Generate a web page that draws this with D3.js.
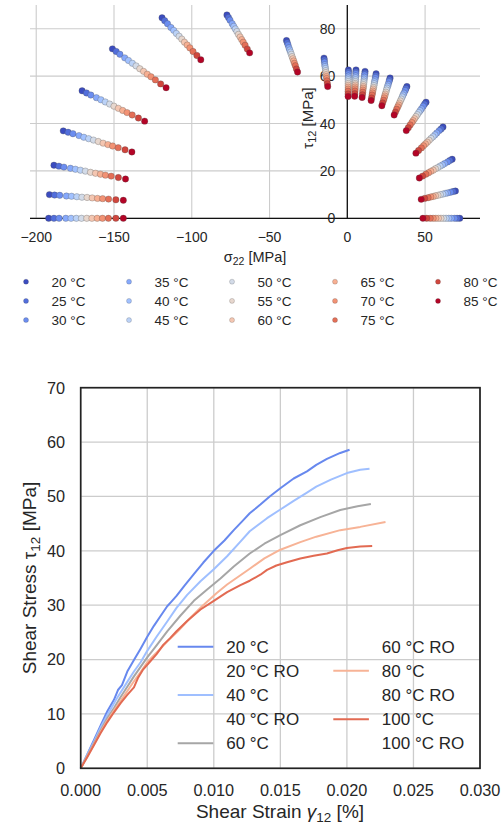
<!DOCTYPE html>
<html><head><meta charset="utf-8">
<script src="https://cdn.jsdelivr.net/npm/d3@7"></script>
<style>
html,body{margin:0;padding:0;background:#fff;}
svg{display:block;font-family:"Liberation Sans",Arial,sans-serif;}
</style></head>
<body>
<svg id="c" width="501" height="825"></svg>
<script>
// ---------------- DATA ----------------
// Top chart: failure envelope points, one row per loading path, one column per temperature
const temperatures = [20,25,30,35,40,45,50,55,60,65,70,75,80,85];
const sigma22 = [
 [-192,-188.6,-185.3,-181.0,-177.6,-174.2,-170.9,-167.5,-164.2,-160.8,-157.4,-153.6,-148.8,-144.0],
 [-191.5,-188.2,-184.9,-180.6,-177.3,-173.9,-170.6,-167.3,-164.0,-160.6,-157.3,-153.5,-148.8,-144.0],
 [-188.6,-185.4,-182.2,-178.0,-174.8,-171.6,-168.4,-165.1,-161.9,-158.7,-155.5,-151.8,-147.2,-142.6],
 [-182.6,-179.5,-176.4,-172.5,-169.4,-166.3,-163.2,-160.1,-157.0,-153.9,-150.9,-147.3,-142.9,-138.5],
 [-170.5,-167.7,-164.9,-161.3,-158.4,-155.6,-152.8,-150.0,-147.2,-144.4,-141.6,-138.3,-134.3,-130.3],
 [-151.0,-148.6,-146.2,-143.1,-140.7,-138.2,-135.8,-133.4,-131.0,-128.6,-126.2,-123.4,-120.0,-116.5],
 [-119.1,-117.4,-115.6,-113.4,-111.6,-109.9,-108.1,-106.4,-104.7,-102.9,-101.2,-99.2,-96.7,-94.2],
 [-77.4,-76.4,-75.4,-74.0,-73.0,-72.0,-71.0,-70.0,-68.9,-67.9,-66.9,-65.7,-64.3,-62.8],
 [-39.1,-38.6,-38.1,-37.5,-37.0,-36.5,-36.0,-35.5,-35.0,-34.5,-34.0,-33.4,-32.7,-32.0],
 [-15.0,-14.8,-14.7,-14.5,-14.3,-14.1,-13.9,-13.8,-13.6,-13.4,-13.3,-13.1,-12.8,-12.6],
 [0.7,0.7,0.7,0.7,0.6,0.6,0.6,0.6,0.6,0.6,0.6,0.5,0.5,0.5],
 [5.6,5.5,5.5,5.4,5.3,5.3,5.2,5.1,5.1,5.0,5.0,4.9,4.8,4.7],
 [11.4,11.3,11.1,11.0,10.8,10.7,10.6,10.4,10.3,10.2,10.0,9.9,9.7,9.5],
 [18.5,18.3,18.1,17.8,17.5,17.3,17.1,16.9,16.6,16.4,16.2,15.9,15.6,15.3],
 [27.5,27.1,26.8,26.3,25.9,25.5,25.2,24.8,24.4,24.1,23.7,23.3,22.7,22.2],
 [38.3,37.7,37.2,36.4,35.8,35.3,34.7,34.1,33.5,33.0,32.4,31.7,30.9,30.1],
 [50.6,49.7,48.8,47.7,46.8,45.9,45.0,44.1,43.2,42.3,41.5,40.4,39.2,37.9],
 [61.5,60.3,59.1,57.5,56.3,55.1,53.8,52.6,51.4,50.2,49.0,47.6,45.8,44.1],
 [67.4,65.9,64.5,62.6,61.1,59.6,58.1,56.6,55.2,53.7,52.2,50.5,48.4,46.3],
 [69.5,68.0,66.4,64.4,62.9,61.4,59.8,58.3,56.7,55.2,53.7,51.9,49.7,47.5],
 [72.3,70.6,69.0,66.9,65.2,63.5,61.9,60.2,58.6,56.9,55.2,53.3,51.0,48.6]
];
const tau12 = [
 [0,0,0,0,0,0,0,0,0,0,0,0,0,0],
 [10.0,9.8,9.7,9.4,9.3,9.1,8.9,8.8,8.6,8.4,8.3,8.1,7.8,7.6],
 [22.4,22.0,21.6,21.1,20.7,20.3,19.9,19.4,19.0,18.6,18.2,17.8,17.2,16.6],
 [36.9,36.3,35.7,34.9,34.2,33.6,33.0,32.4,31.7,31.1,30.5,29.8,28.9,28.0],
 [53.8,52.9,52.0,50.9,50.0,49.1,48.2,47.3,46.4,45.5,44.6,43.6,42.3,41.0],
 [71.5,70.4,69.2,67.7,66.6,65.4,64.3,63.1,62.0,60.8,59.7,58.4,56.7,55.1],
 [84.6,83.4,82.1,80.5,79.3,78.0,76.8,75.6,74.3,73.1,71.9,70.4,68.7,66.9],
 [85.8,84.7,83.6,82.1,81.0,79.9,78.8,77.6,76.5,75.4,74.3,73.0,71.4,69.8],
 [75.0,74.1,73.1,71.9,71.0,70.1,69.2,68.2,67.3,66.4,65.4,64.4,63.0,61.7],
 [67.6,66.8,65.9,64.8,64.0,63.2,62.3,61.5,60.6,59.8,59.0,58.0,56.8,55.6],
 [62.6,61.8,61.0,60.0,59.2,58.5,57.7,56.9,56.1,55.3,54.5,53.6,52.5,51.4],
 [62.6,61.8,61.1,60.1,59.3,58.5,57.7,56.9,56.2,55.4,54.6,53.7,52.6,51.5],
 [62.0,61.2,60.5,59.5,58.7,57.9,57.2,56.4,55.6,54.9,54.1,53.2,52.1,51.0],
 [61.0,60.2,59.4,58.4,57.6,56.8,56.0,55.2,54.5,53.7,52.9,52.0,50.8,49.7],
 [59.2,58.4,57.6,56.5,55.7,54.9,54.1,53.2,52.4,51.6,50.8,49.8,48.7,47.5],
 [55.6,54.8,53.9,52.8,52.0,51.2,50.3,49.5,48.6,47.8,47.0,46.0,44.8,43.6],
 [49.0,48.2,47.3,46.2,45.4,44.6,43.7,42.9,42.0,41.2,40.4,39.4,38.2,37.0],
 [38.5,37.7,37.0,36.0,35.2,34.4,33.7,32.9,32.1,31.4,30.6,29.7,28.6,27.5],
 [24.9,24.4,23.8,23.1,22.5,22.0,21.4,20.9,20.3,19.8,19.2,18.6,17.8,17.0],
 [11.5,11.3,11.0,10.7,10.5,10.2,10.0,9.7,9.5,9.2,9.0,8.7,8.4,8.0],
 [0,0,0,0,0,0,0,0,0,0,0,0,0,0]
];
const topXTicks = [-200,-150,-100,-50,0,50];
const topYTicks = [0,20,40,60,80];

// Bottom chart: shear stress-strain curves
const curveNames = ["20 °C","20 °C RO","40 °C","40 °C RO","60 °C","60 °C RO","80 °C","80 °C RO","100 °C","100 °C RO"];
const strain20 = [0,0.0005,0.001,0.0015,0.002,0.0025,0.0028,0.0031,0.0035,0.004,0.0045,0.005,0.0055,0.006,0.0065,0.0068,0.0072,0.0078,0.0085,0.0092,0.010,0.0108,0.0115,0.0122,0.0127,0.0135,0.0142,0.015,0.016,0.017,0.0177,0.0185,0.0195,0.0202];
const stress20 = [0,2.6,5.2,7.9,10.5,12.6,14.4,15.3,17.8,19.9,22.0,24.2,26.2,28.0,29.8,30.6,31.7,33.6,35.7,37.8,40.0,41.9,43.8,45.6,46.9,48.5,50.0,51.5,53.3,54.6,55.8,56.9,58.0,58.6];
const strain40 = [0,0.0005,0.001,0.0015,0.002,0.0027,0.0035,0.004,0.0045,0.005,0.0057,0.0065,0.0072,0.008,0.009,0.010,0.011,0.012,0.0127,0.014,0.015,0.016,0.017,0.0177,0.0188,0.020,0.021,0.0217];
const stress40 = [0,2.5,4.9,7.5,9.8,12.8,15.9,17.8,19.5,21.6,24.2,27.0,29.5,31.9,34.4,36.6,39.0,41.7,43.6,46.0,47.6,49.2,50.7,51.8,53.1,54.3,54.9,55.1];
const strain60 = [0,0.0005,0.001,0.0015,0.002,0.0025,0.003,0.0035,0.004,0.005,0.0057,0.0065,0.0075,0.0085,0.0095,0.0105,0.0115,0.0127,0.0138,0.015,0.0165,0.018,0.0195,0.0208,0.0218];
const stress60 = [0,2.3,4.6,7.0,9.2,11.1,13.1,15.0,16.9,20.4,22.6,25.2,28.1,30.8,32.9,34.9,37.1,39.5,41.3,42.9,44.7,46.2,47.5,48.2,48.6];
const strain80 = [0,0.0005,0.001,0.0015,0.002,0.0025,0.003,0.0035,0.004,0.0045,0.005,0.0055,0.006,0.0065,0.0073,0.0082,0.0092,0.0102,0.011,0.012,0.0127,0.0138,0.015,0.0165,0.0177,0.0195,0.021,0.0229];
const stress80 = [0,2.2,4.4,6.7,8.8,10.6,12.4,14.2,16.0,17.7,19.5,20.8,22.0,23.3,25.2,27.6,30.0,32.2,33.8,35.5,36.7,38.6,40.2,41.6,42.6,43.8,44.4,45.3];
const strain100 = [0,0.0005,0.001,0.0015,0.002,0.0025,0.003,0.0035,0.004,0.0043,0.0047,0.0052,0.0057,0.0062,0.0067,0.0072,0.008,0.009,0.010,0.011,0.012,0.0127,0.0135,0.014,0.0147,0.0155,0.0165,0.0175,0.0185,0.0193,0.020,0.021,0.0219];
const stress100 = [0,2.1,4.3,6.5,8.5,10.3,12.0,13.5,14.9,16.6,18.2,19.6,21.0,22.7,23.9,25.2,27.1,29.2,30.8,32.4,33.7,34.5,35.6,36.5,37.3,37.9,38.6,39.1,39.5,40.1,40.5,40.8,40.9];
const botXTicks = [0,0.005,0.010,0.015,0.020,0.025,0.030];
const botYTicks = [0,10,20,30,40,50,60,70];

// ---------------- STYLE ----------------
const coolwarmStops = ["#3b4cc0","#445acc","#4d68d7","#5775e1","#6282ea","#6c8ef1","#779af7","#82a5fb","#8db0fe","#98b9ff","#a3c2ff","#aec9fd","#b8d0f9","#c2d5f4","#ccd9ee","#d5dbe6","#dddddd","#e5d8d1","#ecd3c5","#f1ccb9","#f5c4ad","#f7bba0","#f7b194","#f7a687","#f49a7b","#f18d6f","#ec7f63","#e57058","#de604d","#d55042","#cb3e38","#c0282f","#b40426"];
const coolwarm = d3.piecewise(d3.interpolateRgb, coolwarmStops);
const tempColor = i => coolwarm(i / (temperatures.length - 1));
const lineColors = {"20 °C":"#6788ee","40 °C":"#9fbfff","60 °C":"#a6a6a6","80 °C":"#f7b396","100 °C":"#e26a52"};
const textCol = "#262626", gridCol = "#cccccc";

const svg = d3.select("#c");

// ---------------- TOP CHART ----------------
const tx = d3.scaleLinear().domain([-204, 85.3]).range([30, 480]);
const ty = d3.scaleLinear().domain([0, 90]).range([218.3, 5]);
const gTop = svg.append("g");

gTop.append("g").selectAll("line").data(topXTicks).join("line")
  .attr("x1", d => tx(d)).attr("x2", d => tx(d)).attr("y1", ty(0)).attr("y2", ty(90))
  .attr("stroke", gridCol).attr("stroke-width", 1.1);
gTop.append("g").selectAll("line").data(topYTicks).join("line")
  .attr("x1", tx(-204)).attr("x2", tx(85.3)).attr("y1", d => ty(d)).attr("y2", d => ty(d))
  .attr("stroke", gridCol).attr("stroke-width", 1.1);
// zero axes
gTop.append("line").attr("x1", tx(-204)).attr("x2", tx(85.3)).attr("y1", ty(0)).attr("y2", ty(0))
  .attr("stroke", "#111").attr("stroke-width", 1.3);
gTop.append("line").attr("x1", tx(0)).attr("x2", tx(0)).attr("y1", ty(0)).attr("y2", ty(90))
  .attr("stroke", "#111").attr("stroke-width", 1.3);

const fmtMinus = d => (d < 0 ? "\u2212" + Math.abs(d) : String(d));
gTop.append("g").selectAll("text").data(topXTicks).join("text")
  .attr("x", d => tx(d)).attr("y", 242).attr("text-anchor", "middle")
  .attr("font-size", 14).attr("fill", textCol).text(fmtMinus);
gTop.append("g").selectAll("text").data(topYTicks).join("text")
  .attr("x", tx(0) - 12).attr("y", d => ty(d) + 5).attr("text-anchor", "end")
  .attr("font-size", 14).attr("fill", textCol).text(d => d);

// axis titles
const xt = gTop.append("text").attr("x", 255).attr("y", 262).attr("text-anchor", "middle")
  .attr("font-size", 14.5).attr("fill", textCol);
xt.append("tspan").text("σ");
xt.append("tspan").attr("font-size", 10.5).attr("dy", 3).text("22");
xt.append("tspan").attr("dy", -3).text(" [MPa]");
const yt = gTop.append("text").attr("transform", `translate(313,118) rotate(-90)`).attr("text-anchor", "middle")
  .attr("font-size", 15).attr("fill", textCol);
yt.append("tspan").text("τ");
yt.append("tspan").attr("font-size", 11).attr("dy", 3).text("12");
yt.append("tspan").attr("dy", -3).text(" [MPa]");

// scatter points, drawn temperature by temperature
temperatures.forEach((T, i) => {
  const pts = sigma22.map((row, g) => ({s: row[i], t: tau12[g][i]}));
  gTop.append("g").selectAll("circle").data(pts).join("circle")
    .attr("cx", d => tx(d.s)).attr("cy", d => ty(d.t)).attr("r", 3.2)
    .attr("fill", tempColor(i)).attr("stroke", "rgba(70,70,70,0.55)").attr("stroke-width", 0.5);
});

// top legend (5 columns x 3 rows, column-major)
const legTop = gTop.append("g");
temperatures.forEach((T, i) => {
  const col = Math.floor(i / 3), row = i % 3;
  const mx = 26 + col * 103, my = 281.7 + row * 19.2;
  legTop.append("circle").attr("cx", mx).attr("cy", my).attr("r", 2.5)
    .attr("fill", tempColor(i)).attr("stroke", "rgba(70,70,70,0.55)").attr("stroke-width", 0.4);
  legTop.append("text").attr("x", mx + 25.5).attr("y", my + 4.8).attr("font-size", 13.5)
    .attr("fill", textCol).text(T + " °C");
});

// ---------------- BOTTOM CHART ----------------
const bx = d3.scaleLinear().domain([0, 0.03]).range([80.7, 480]);
const by = d3.scaleLinear().domain([0, 70]).range([768.3, 387.7]);
const gBot = svg.append("g");

gBot.append("g").selectAll("line").data(botXTicks).join("line")
  .attr("x1", d => bx(d)).attr("x2", d => bx(d)).attr("y1", by(0)).attr("y2", by(70))
  .attr("stroke", gridCol).attr("stroke-width", 1.3);
gBot.append("g").selectAll("line").data(botYTicks).join("line")
  .attr("x1", bx(0)).attr("x2", bx(0.03)).attr("y1", d => by(d)).attr("y2", d => by(d))
  .attr("stroke", gridCol).attr("stroke-width", 1.3);

gBot.append("g").selectAll("text").data(botXTicks).join("text")
  .attr("x", d => bx(d)).attr("y", 796).attr("text-anchor", "middle")
  .attr("font-size", 16.3).attr("fill", textCol).text(d => d3.format(".3f")(d));
gBot.append("g").selectAll("text").data(botYTicks).join("text")
  .attr("x", 65).attr("y", d => by(d) + 5.9).attr("text-anchor", "end")
  .attr("font-size", 16.3).attr("fill", textCol).text(d => d);

const bxt = gBot.append("text").attr("x", 280).attr("y", 818).attr("text-anchor", "middle")
  .attr("font-size", 19).attr("fill", textCol);
bxt.append("tspan").text("Shear Strain ");
bxt.append("tspan").attr("font-style", "italic").text("γ");
bxt.append("tspan").attr("font-size", 13.5).attr("dy", 3.5).text("12");
bxt.append("tspan").attr("dy", -3.5).text(" [%]");
const byt = gBot.append("text").attr("transform", `translate(36,578) rotate(-90)`).attr("text-anchor", "middle")
  .attr("font-size", 19).attr("fill", textCol);
byt.append("tspan").text("Shear Stress ");
byt.append("tspan").text("τ");
byt.append("tspan").attr("font-size", 13.5).attr("dy", 3.5).text("12");
byt.append("tspan").attr("dy", -3.5).text(" [MPa]");

const curves = [
  {name: "20 °C", x: strain20, y: stress20},
  {name: "40 °C", x: strain40, y: stress40},
  {name: "60 °C", x: strain60, y: stress60},
  {name: "80 °C", x: strain80, y: stress80},
  {name: "100 °C", x: strain100, y: stress100}
];
const line = d3.line().x(d => bx(d[0])).y(d => by(d[1]));
curves.forEach(c => {
  gBot.append("path").datum(c.x.map((v, k) => [v, c.y[k]]))
    .attr("d", line).attr("fill", "none").attr("stroke", lineColors[c.name])
    .attr("stroke-width", 2).attr("stroke-linejoin", "round").attr("stroke-linecap", "butt");
});

// frame
gBot.append("rect").attr("x", bx(0)).attr("y", by(70)).attr("width", bx(0.03) - bx(0)).attr("height", by(0) - by(70))
  .attr("fill", "none").attr("stroke", "#222").attr("stroke-width", 1.7);

// bottom legend (2 columns x 5 rows, column-major)
const legBot = gBot.append("g");
curveNames.forEach((n, i) => {
  const col = Math.floor(i / 5), row = i % 5;
  const lx = 177.7 + col * 155.6, ly = 646.7 + row * 24.15;
  if (lineColors[n]) {
    legBot.append("line").attr("x1", lx).attr("x2", lx + 35.6).attr("y1", ly).attr("y2", ly)
      .attr("stroke", lineColors[n]).attr("stroke-width", 2);
  }
  legBot.append("text").attr("x", lx + 48.5).attr("y", ly + 6).attr("font-size", 17)
    .attr("fill", textCol).text(n);
});
</script>
</body></html>
